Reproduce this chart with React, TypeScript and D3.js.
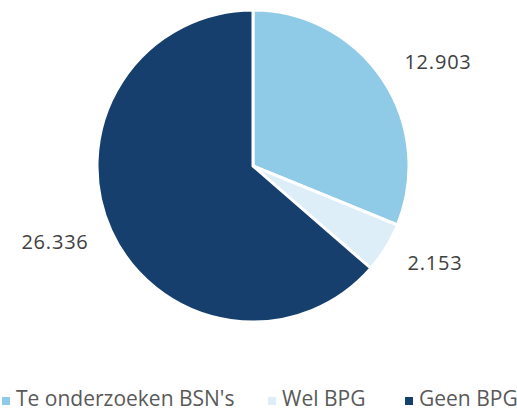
import React from 'react';
import { pie, arc, scaleOrdinal } from 'd3';

const categories = ["Te onderzoeken BSN's", 'Wel BPG', 'Geen BPG'];
const values = [12903, 2153, 26336];
const labels = ['12.903', '2.153', '26.336'];
const colors = ['#8FCAE7', '#DDEEF8', '#173F6E'];

const App = () => {
  const width = 517;
  const height = 411;
  const cx = 253;
  const cy = 166;
  const r = 156;

  const color = scaleOrdinal<string, string>().domain(categories).range(colors);
  const slices = pie<number>().sort(null)(values);
  const arcGen = arc<any>().innerRadius(0).outerRadius(r);

  // label positions in the original sit outside the pie
  const labelPos = [
    { x: 438, y: 69 },
    { x: 435, y: 270 },
    { x: 55, y: 249 },
  ];

  const legendX = [2, 268, 405];

  return (
    <svg width={width} height={height} style={{ position: 'absolute', left: 0, top: 0 }}
      fontFamily="'Open Sans', sans-serif">
      <g transform={`translate(${cx},${cy})`}>
        {slices.map((s, i) => (
          <path key={i} d={arcGen(s) as string} fill={color(categories[i])}
            stroke="#fff" strokeWidth={3} strokeLinejoin="round" />
        ))}
      </g>
      {labelPos.map((p, i) => (
        <text key={i} x={p.x} y={p.y} textAnchor="middle" fontSize={20} letterSpacing={0.8} fill="#404040">
          {labels[i]}
        </text>
      ))}
      {categories.map((c, i) => (
        <g key={c} transform={`translate(${legendX[i]},0)`}>
          <rect x={0} y={397} width={8} height={8} fill={color(c)} />
          <text x={14} y={406} fontSize={21} fill="#595959">{c}</text>
        </g>
      ))}
    </svg>
  );
};

export default App;
